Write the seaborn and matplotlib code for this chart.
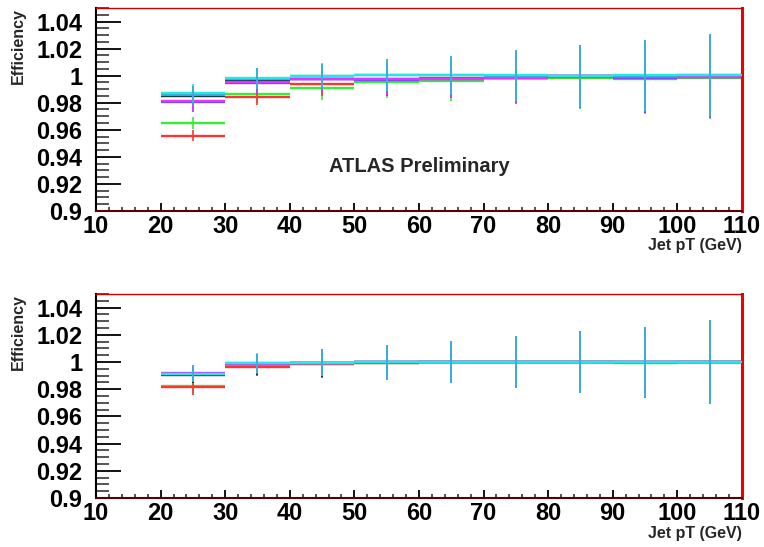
import numpy as np
import pandas as pd
import seaborn as sns
from matplotlib import pyplot as plt
from matplotlib.ticker import MultipleLocator

# jet pT bins (GeV)
bin_lo = [20, 30, 40, 50, 60, 70, 80, 90, 100]
bin_hi = [30, 40, 50, 60, 70, 80, 90, 100, 110]

# top panel efficiencies
top_black = [0.9852, 0.9970, 0.9975, 0.9968, 0.9975, 0.9985, 0.9995, 0.9985, 0.9988]
top_cyan = [0.9870, 0.9980, 0.9998, 1.0005, 1.0005, 1.0003, 1.0000, 1.0003, 1.0005]
top_azure = [0.9855, 0.9978, 0.9996, 1.0003, 1.0003, 1.0001, 0.9999, 1.0001, 1.0003]
top_magenta = [0.9810, 0.9950, 0.9978, 0.9978, 0.9978, 0.9980, 0.9998, 0.9990, 0.9990]
top_violet = [0.9805, 0.9948, 0.9975, 0.9968, 0.9975, 0.9985, 0.9995, 0.9985, 0.9988]
top_red = [0.9556, 0.9845, 0.9936, 0.9976, 0.9980, 0.9990, 0.9990, 0.9990, 0.9992]
top_green = [0.9650, 0.9865, 0.9911, 0.9953, 0.9958, 0.9985, 0.9983, 0.9976, 0.9985]
top_err = [0.0070, 0.0077, 0.0092, 0.0118, 0.0143, 0.0188, 0.0228, 0.0262, 0.0302]
top_err_rg = [0.0042, 0.0065, 0.0090, 0.0120, 0.0143, 0.0188, 0.0228, 0.0262, 0.0302]

# bottom panel efficiencies
bot_black = [0.9906, 0.9980, 0.9990, 0.9997, 0.9999, 0.9999, 0.9999, 0.9999, 0.9999]
bot_cyan = [0.9912, 0.9992, 0.9995, 0.9997, 1.0000, 1.0000, 1.0000, 1.0000, 1.0000]
bot_azure = [0.9912, 0.9990, 0.9994, 0.9997, 1.0000, 1.0000, 1.0000, 1.0000, 1.0000]
bot_magenta = [0.9921, 0.9985, 0.9995, 0.9998, 0.9998, 0.9998, 0.9998, 0.9998, 0.9998]
bot_violet = [0.9914, 0.9988, 0.9995, 0.9999, 0.9999, 0.9999, 0.9999, 0.9999, 0.9999]
bot_red = [0.9816, 0.9966, 0.9985, 0.9995, 0.9998, 0.9999, 0.9999, 0.9999, 1.0000]
bot_green = [0.9823, 0.9970, 0.9985, 0.9995, 0.9998, 1.0000, 1.0000, 0.9993, 1.0000]
bot_err = [0.0058, 0.0072, 0.0100, 0.0128, 0.0154, 0.0190, 0.0225, 0.0260, 0.0310]

colors = {"cyan": "#22e8e8", "azure": "#3fa6d6", "green": "#33ee33", "red": "#ff3333",
          "black": "#0a2a2a", "violet": "#6a4cff", "magenta": "#e633ff"}

top = pd.DataFrame({"lo": bin_lo, "hi": bin_hi})
top["x"] = (top.lo + top.hi) / 2
bot = top.copy()
for name, v in [("black", top_black), ("cyan", top_cyan), ("azure", top_azure), ("magenta", top_magenta),
                ("violet", top_violet), ("red", top_red), ("green", top_green)]:
    top[name] = v
for name, v in [("black", bot_black), ("cyan", bot_cyan), ("azure", bot_azure), ("magenta", bot_magenta),
                ("violet", bot_violet), ("red", bot_red), ("green", bot_green)]:
    bot[name] = v

sns.set_theme(style="white")
plt.rcParams["font.family"] = ["Liberation Sans", "DejaVu Sans"]
plt.rcParams["font.weight"] = "bold"

fig = plt.figure(figsize=(7.64, 5.47), dpi=100)
ax1 = fig.add_axes([0.1257, 0.6143, 0.8453, 0.3711])
ax2 = fig.add_axes([0.1257, 0.0896, 0.8453, 0.3729])

order = ["black", "green", "red", "violet", "magenta", "azure", "cyan"]
err_order = ["green", "red", "black", "violet", "magenta", "cyan", "azure"]

for ax, df, err in [(ax1, top, top_err), (ax2, bot, bot_err)]:
    for k, name in enumerate(order):
        ax.errorbar(df.x, df[name], xerr=5, fmt="none", ecolor=colors[name],
                    elinewidth=1.7, zorder=2 + k * 0.1)
    for k, name in enumerate(err_order):
        e = top_err_rg if (df is top and name in ("red", "green")) else err
        ax.errorbar(df.x, df[name], yerr=e, fmt="none", ecolor=colors[name],
                    elinewidth=1.2, zorder=3 + k * 0.1)

    ax.set_xlim(10, 110)
    ax.set_ylim(0.9, 1.05)
    ax.xaxis.set_major_locator(MultipleLocator(10))
    ax.xaxis.set_minor_locator(MultipleLocator(2))
    ax.yaxis.set_major_locator(MultipleLocator(0.02))
    ax.yaxis.set_minor_locator(MultipleLocator(0.005))
    ax.yaxis.set_major_formatter(plt.FuncFormatter(lambda v, p: f"{v:.2f}".rstrip("0").rstrip(".")))
    ax.tick_params(axis="y", which="major", direction="in", length=18, width=1.3, pad=10,
                   labelsize=17, colors="black", left=True)
    ax.tick_params(axis="y", which="minor", direction="in", length=9, width=1.1, left=True)
    ax.tick_params(axis="x", which="major", direction="in", length=6, width=1.3, pad=3,
                   labelsize=17, colors="black", bottom=True)
    ax.tick_params(axis="x", which="minor", direction="in", length=3, width=1.1, bottom=True)
    for t in ax.get_xticklabels() + ax.get_yticklabels():
        t.set_fontweight("bold")
    ax.spines["left"].set_color("black")
    ax.spines["left"].set_linewidth(1.5)
    ax.spines["bottom"].set_color("#5a0000")
    ax.spines["bottom"].set_linewidth(1.5)
    ax.spines["top"].set_color("#cc0000")
    ax.spines["top"].set_linewidth(1.0)
    ax.spines["right"].set_color("#ee0000")
    ax.spines["right"].set_linewidth(2.2)
    ax.set_ylabel("Efficiency", loc="top", fontsize=11.5, fontweight="bold")
    ax.yaxis.set_label_coords(-0.109, 1.0)
    ax.set_xlabel("Jet pT (GeV)", loc="right", fontsize=11.5, fontweight="bold")
    ax.xaxis.set_label_coords(1.0, -0.135)
    ax.grid(False)

ax1.text(60, 0.9325, "ATLAS Preliminary", ha="center", va="center", fontsize=14.5, fontweight="bold")

fig.savefig("out.png", dpi=100)
